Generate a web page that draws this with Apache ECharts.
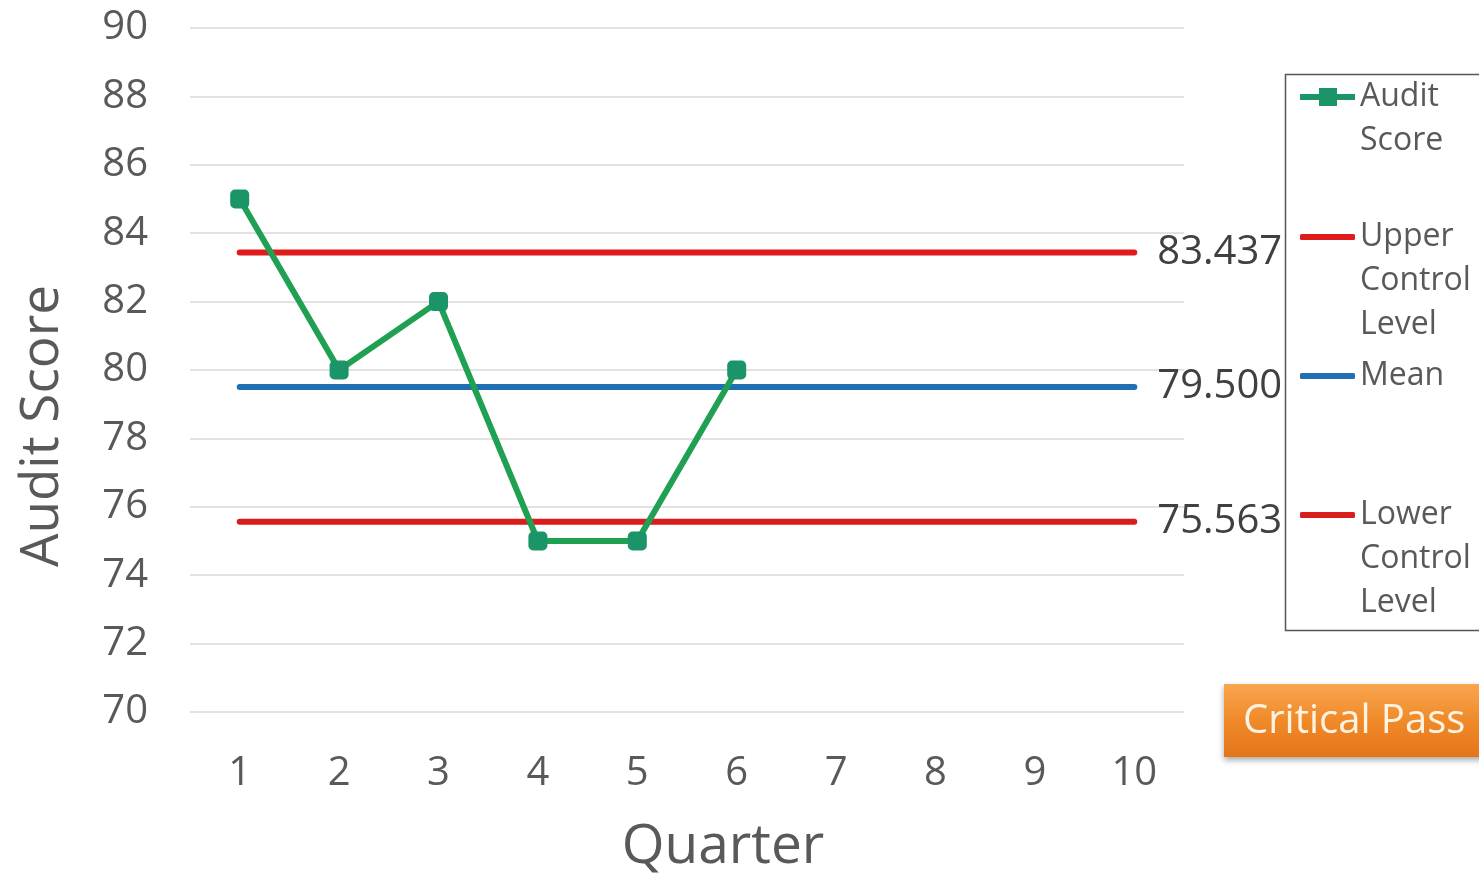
<!DOCTYPE html>
<html>
<head>
<meta charset="utf-8">
<style>
  html, body { margin: 0; padding: 0; background: #ffffff; }
  #chart { width: 1479px; height: 874px; }
</style>
<script src="https://cdn.jsdelivr.net/npm/echarts@6/dist/echarts.min.js"></script>
</head>
<body>
<div id="chart"></div>
<script>
// Quarter categories along the x axis
const quarters = ['1', '2', '3', '4', '5', '6', '7', '8', '9', '10'];
// Audit scores recorded so far (quarters 1-6)
const auditScores = [85, 80, 82, 75, 75, 80];
// Control levels
const upperControlLevel = 83.437;
const meanLevel = 79.5;
const lowerControlLevel = 75.563;
// Y axis range
const yMin = 70;
const yMax = 90;
const yStep = 2;

const FONT = '"Open Sans", "DejaVu Sans", sans-serif';
const TEXT_GREY = '#595959';
const LEGEND_LINE = 44;

function flat(v) { return quarters.map(() => v); }

function levelSeries(name, value, color) {
  return {
    name: name,
    type: 'line',
    data: flat(value),
    symbol: 'none',
    z: 2,
    lineStyle: { color: color, width: 6, cap: 'round' },
    itemStyle: { color: color },
    endLabel: {
      show: true,
      distance: 23,
      formatter: p => Number(p.value).toFixed(3),
      color: '#404040',
      fontFamily: FONT,
      fontSize: 40
    }
  };
}

// One legend block per series. Each word goes on its own line; blank lines
// are prepended so the vertically centred text block puts the first word
// level with the icon.
function legendFor(name, firstLineCenter, icon, iconHeight) {
  const words = name.split(' ');
  const lines = words.length;
  const pad = new Array(lines - 1).fill(' ');
  return {
    data: [name],
    orient: 'vertical',
    left: 1300,
    top: firstLineCenter - (2 * lines - 1) * LEGEND_LINE / 2,
    icon: icon,
    itemWidth: 55,
    itemHeight: iconHeight,
    padding: 0,
    formatter: () => pad.concat(words).join('\n'),
    textStyle: {
      color: TEXT_GREY,
      fontFamily: FONT,
      fontSize: 32,
      lineHeight: LEGEND_LINE
    }
  };
}

const LINE_ICON = 'roundRect';
const MARKER_LINE_ICON = 'path://M0,7H19V1H37V7H55V13H37V19H19V13H0Z';

const chart = echarts.init(document.getElementById('chart'), null, { renderer: 'canvas' });

chart.setOption({
  animation: false,
  backgroundColor: '#ffffff',
  grid: { left: 190, right: 295, top: 28, bottom: 162, containLabel: false, outerBoundsMode: 'none' },
  xAxis: {
    type: 'category',
    data: quarters,
    boundaryGap: true,
    name: 'Quarter',
    nameLocation: 'middle',
    nameGap: 108,
    nameTextStyle: { color: TEXT_GREY, fontFamily: FONT, fontSize: 55, padding: [0, 0, 0, 72] },
    axisLine: { show: false },
    axisTick: { show: false },
    axisLabel: { color: TEXT_GREY, fontFamily: FONT, fontSize: 40, margin: 42 }
  },
  yAxis: {
    type: 'value',
    min: yMin,
    max: yMax,
    interval: yStep,
    name: 'Audit Score',
    nameLocation: 'middle',
    nameGap: 121,
    nameTextStyle: { color: TEXT_GREY, fontFamily: FONT, fontSize: 53, padding: [0, 112, 0, 0] },
    axisLine: { show: false },
    axisTick: { show: false },
    axisLabel: { color: TEXT_GREY, fontFamily: FONT, fontSize: 40, margin: 42 },
    splitLine: { lineStyle: { color: '#d9d9d9', width: 1.5 } }
  },
  legend: [
    legendFor('Audit Score', 97, MARKER_LINE_ICON, 20),
    legendFor('Upper Control Level', 237, LINE_ICON, 6),
    legendFor('Mean', 376, LINE_ICON, 6),
    legendFor('Lower Control Level', 515, LINE_ICON, 6)
  ],
  series: [
    levelSeries('Upper Control Level', upperControlLevel, '#e01b1b'),
    levelSeries('Mean', meanLevel, '#1f6fb2'),
    levelSeries('Lower Control Level', lowerControlLevel, '#d91c1c'),
    {
      name: 'Audit Score',
      type: 'line',
      data: auditScores,
      z: 5,
      symbol: 'roundRect',
      symbolSize: 19,
      lineStyle: { color: '#20a052', width: 6 },
      itemStyle: { color: '#1b9468' }
    }
  ],
  graphic: [
    {
      type: 'rect',
      left: 1283,
      top: 72,
      shape: { width: 220, height: 556 },
      style: { fill: 'none', stroke: '#555555', lineWidth: 1.5 },
      z: -1
    },
    {
      type: 'group',
      left: 1224,
      top: 684,
      children: [
        {
          type: 'rect',
          shape: { x: 0, y: 0, width: 270, height: 73 },
          style: {
            fill: new echarts.graphic.LinearGradient(0, 0, 0, 1, [
              { offset: 0, color: '#f9a650' },
              { offset: 0.5, color: '#f08a2a' },
              { offset: 1, color: '#e3741a' }
            ]),
            shadowColor: 'rgba(0,0,0,0.35)',
            shadowBlur: 6,
            shadowOffsetY: 3
          }
        },
        {
          type: 'text',
          x: 19,
          y: 38,
          style: {
            text: 'Critical Pass',
            fill: '#fff4e2',
            font: '40px ' + FONT,
            verticalAlign: 'middle'
          }
        }
      ]
    }
  ]
});
</script>
</body>
</html>
